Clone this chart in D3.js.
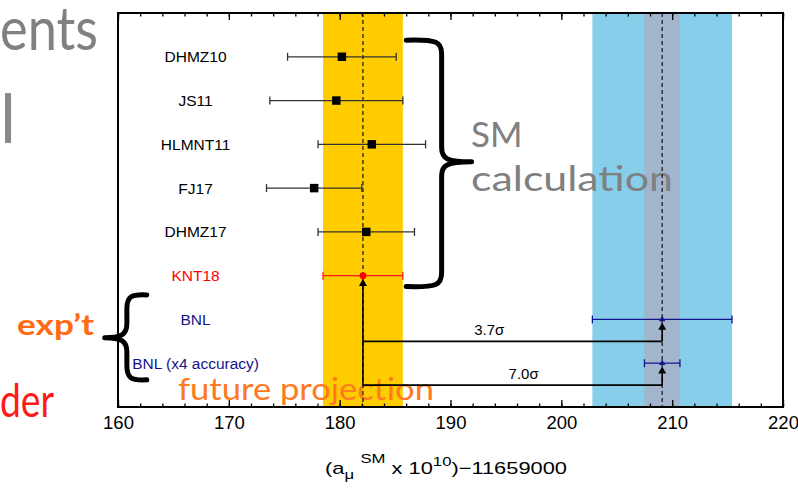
<!DOCTYPE html>
<html>
<head>
<meta charset="utf-8">
<script src="https://cdn.jsdelivr.net/npm/d3@7"></script>
<style>
    body { margin: 0; background: #fff; }
    svg { display: block; }
</style>
</head>
<body>
<div id="chart"></div>
<script>
    // Values
    const labels = ['DHMZ10', 'JS11', 'HLMNT11', 'FJ17', 'DHMZ17', 'KNT18', 'BNL', 'BNL (x4 accuracy)'];
    const values = [180.2, 179.7, 182.9, 177.7, 182.4, 182.1, 209.1, 209.1];
    const errors = [4.9, 6.0, 4.85, 4.3, 4.35, 3.6, 6.3, 1.6];
    const kinds = ['sm', 'sm', 'sm', 'sm', 'sm', 'knt', 'bnl', 'bnl'];
    const xTicks = [160, 170, 180, 190, 200, 210, 220];
    const sigmaLabels = ['3.7\u03c3', '7.0\u03c3'];
    const sigmaX = [193.5, 196.6];

    const width = 798;
    const height = 491;
    const margin = { top: 13, right: 15, bottom: 84, left: 118 };

    const colors = { sm: '#000', knt: '#ff0000', bnl: '#14148c' };
    const barColors = { sm: '#333', knt: '#ff1a1a', bnl: '#14148c' };

    const svg = d3.select('#chart')
        .append('svg')
        .attr('width', width)
        .attr('height', height);

    const x = d3.scaleLinear()
        .domain([160, 220])
        .range([margin.left, width - margin.right]);

    // 8 rows in 9 slots
    const y = d3.scaleLinear()
        .domain([0, 9])
        .range([margin.top, height - margin.bottom]);

    const rowY = i => y(i + 1);
    const knt = 5, bnl = 6, bnl4 = 7;

    // Bands
    const bands = [
        { lo: values[knt] - errors[knt], hi: values[knt] + errors[knt], fill: '#ffcc00' },
        { lo: values[bnl] - errors[bnl], hi: values[bnl] + errors[bnl], fill: '#87ceeb' },
        { lo: values[bnl4] - errors[bnl4], hi: values[bnl4] + errors[bnl4], fill: '#a2b5cd' }
    ];
    svg.selectAll('rect.band')
        .data(bands)
        .enter()
        .append('rect')
        .attr('class', 'band')
        .attr('x', d => x(d.lo))
        .attr('width', d => x(d.hi) - x(d.lo))
        .attr('y', y(0))
        .attr('height', y(9) - y(0))
        .attr('fill', d => d.fill);

    // Slide text that sits over the plot
    const slide = svg.append('g')
        .style('font-family', 'Lato, "Open Sans", sans-serif')
        .style('font-weight', 400);

    slide.append('text').attr('x', 0).attr('y', 50)
        .attr('font-size', 60).attr('fill', '#808080')
        .attr('textLength', 98).attr('lengthAdjust', 'spacingAndGlyphs')
        .text('ents');
    slide.append('text').attr('x', 0).attr('y', 143)
        .attr('font-size', 68).attr('fill', '#8a8a8a')
        .text('l');
    slide.append('text').attr('x', 0).attr('y', 417)
        .attr('font-size', 46).attr('fill', '#ff1a1a')
        .attr('textLength', 54).attr('lengthAdjust', 'spacingAndGlyphs')
        .text('der');
    slide.append('text').attr('x', 17).attr('y', 335)
        .attr('font-size', 28).attr('font-weight', 700).attr('fill', '#ff6a13')
        .attr('textLength', 77).attr('lengthAdjust', 'spacingAndGlyphs')
        .text('exp\u2019t');
    slide.append('text').attr('x', 471).attr('y', 147)
        .attr('font-size', 35).attr('fill', '#808080')
        .text('SM');
    slide.append('text').attr('x', 471).attr('y', 191)
        .attr('font-size', 35).attr('fill', '#808080')
        .attr('textLength', 202).attr('lengthAdjust', 'spacingAndGlyphs')
        .text('calculation');
    slide.append('text').attr('x', 178).attr('y', 400)
        .attr('font-size', 31).attr('fill', '#ff7a1f')
        .attr('textLength', 256).attr('lengthAdjust', 'spacingAndGlyphs')
        .text('future projection');

    // Dashed central values
    svg.selectAll('line.central')
        .data([values[knt], values[bnl]])
        .enter()
        .append('line')
        .attr('x1', d => x(d)).attr('x2', d => x(d))
        .attr('y1', y(0)).attr('y2', y(9))
        .attr('stroke', '#222')
        .attr('stroke-width', 1.3)
        .attr('stroke-dasharray', '4,3');

    // Axes: major and minor ticks pointing inward, top and bottom
    const axisFont = 'Liberation Sans, Arial, sans-serif';
    const bottom = svg.append('g')
        .attr('transform', `translate(0,${y(9)})`)
        .call(d3.axisBottom(x).tickValues(xTicks).tickSizeInner(-7).tickSizeOuter(0).tickPadding(9));
    bottom.selectAll('text').style('font-family', axisFont).style('font-size', '18.5px').attr('fill', '#000');
    bottom.select('.domain').remove();

    svg.append('g')
        .attr('transform', `translate(0,${y(9)})`)
        .call(d3.axisBottom(x).ticks(30).tickSizeInner(-3.5).tickSizeOuter(0).tickFormat(''))
        .select('.domain').remove();

    svg.append('g')
        .attr('transform', `translate(0,${y(0)})`)
        .call(d3.axisTop(x).tickValues(xTicks).tickSizeInner(-7).tickSizeOuter(0).tickFormat(''))
        .select('.domain').remove();

    svg.append('g')
        .attr('transform', `translate(0,${y(0)})`)
        .call(d3.axisTop(x).ticks(30).tickSizeInner(-3.5).tickSizeOuter(0).tickFormat(''))
        .select('.domain').remove();

    svg.selectAll('.tick line').attr('stroke', '#000').attr('stroke-width', 1.3);

    // Frame
    svg.append('rect')
        .attr('x', x(160)).attr('y', y(0))
        .attr('width', x(220) - x(160)).attr('height', y(9) - y(0))
        .attr('fill', 'none')
        .attr('stroke', '#000')
        .attr('stroke-width', 2);

    // Axis title (the original is drawn horizontally stretched)
    const title = svg.append('text')
        .attr('x', 325).attr('y', 474)
        .attr('textLength', 242)
        .attr('lengthAdjust', 'spacingAndGlyphs')
        .style('font-family', axisFont)
        .style('font-size', '17px');
    title.append('tspan').text('(a');
    title.append('tspan').attr('dy', 5).style('font-size', '13px').text('\u03bc');
    title.append('tspan').attr('dy', -16).attr('dx', 5).style('font-size', '13px').text('SM');
    title.append('tspan').attr('dy', 11).text(' x 10');
    title.append('tspan').attr('dy', -8).style('font-size', '13px').text('10');
    title.append('tspan').attr('dy', 8).text(')\u221211659000');

    // Row labels
    svg.selectAll('text.label')
        .data(labels)
        .enter()
        .append('text')
        .attr('class', 'label')
        .attr('x', x(167))
        .attr('y', (d, i) => rowY(i))
        .attr('dy', '0.35em')
        .attr('text-anchor', 'middle')
        .style('font-family', axisFont)
        .style('font-size', '15.5px')
        .attr('fill', (d, i) => colors[kinds[i]])
        .text(d => d);

    // Arrows and sigma lines
    const arrowColor = '#000';
    [bnl, bnl4].forEach((row, k) => {
        const yl = y(row + 1.5);
        svg.append('line')
            .attr('x1', x(values[knt])).attr('x2', x(values[row]))
            .attr('y1', yl).attr('y2', yl)
            .attr('stroke', arrowColor).attr('stroke-width', 1.8);
        svg.append('line')
            .attr('x1', x(values[row])).attr('x2', x(values[row]))
            .attr('y1', yl).attr('y2', rowY(row) + 9)
            .attr('stroke', arrowColor).attr('stroke-width', 1.6);
        svg.append('text')
            .attr('x', x(sigmaX[k])).attr('y', yl - 6)
            .attr('text-anchor', 'middle')
            .style('font-family', axisFont)
            .style('font-size', '15px')
            .text(sigmaLabels[k]);
    });
    svg.append('line')
        .attr('x1', x(values[knt])).attr('x2', x(values[knt]))
        .attr('y1', y(bnl4 + 1.5)).attr('y2', rowY(knt) + 9)
        .attr('stroke', arrowColor).attr('stroke-width', 1.6);

    const heads = [knt, bnl, bnl4];
    svg.selectAll('path.head')
        .data(heads)
        .enter()
        .append('path')
        .attr('d', d3.symbol(d3.symbolTriangle, 28))
        .attr('transform', d => `translate(${x(values[d])},${rowY(d) + 8})`)
        .attr('fill', arrowColor);

    // Error bars
    const bars = svg.append('g');
    labels.forEach((name, i) => {
        const c = barColors[kinds[i]];
        const yr = rowY(i);
        const lo = x(values[i] - errors[i]);
        const hi = x(values[i] + errors[i]);
        bars.append('line').attr('x1', lo).attr('x2', hi).attr('y1', yr).attr('y2', yr)
            .attr('stroke', c).attr('stroke-width', 1.3);
        [lo, hi].forEach(cx => {
            bars.append('line').attr('x1', cx).attr('x2', cx).attr('y1', yr - 4).attr('y2', yr + 4)
                .attr('stroke', c).attr('stroke-width', 1.3);
        });
    });

    // Markers
    svg.selectAll('path.marker')
        .data(labels)
        .enter()
        .append('path')
        .attr('d', (d, i) => {
            const k = kinds[i];
            if (k === 'sm') return d3.symbol(d3.symbolSquare, 72)();
            if (k === 'knt') return d3.symbol(d3.symbolCircle, 36)();
            return d3.symbol(d3.symbolTriangle, 18)();
        })
        .attr('transform', (d, i) => `translate(${x(values[i])},${rowY(i)})`)
        .attr('fill', (d, i) => colors[kinds[i]]);

    // Curly braces
    function brace(x0, xv, xt, y0, ym, y1) {
        const s = Math.sign(xt - xv);
        const r = 14;
        const p = d3.path();
        p.moveTo(x0, y0);
        p.bezierCurveTo(xv - s * 4, y0 - 1, xv, y0 + 2, xv, y0 + r);
        p.lineTo(xv, ym - r);
        p.bezierCurveTo(xv, ym - 3, xv + s * 6, ym, xt, ym);
        p.moveTo(xt, ym);
        p.bezierCurveTo(xv + s * 6, ym, xv, ym + 3, xv, ym + r);
        p.lineTo(xv, y1 - r);
        p.bezierCurveTo(xv, y1 - 2, xv - s * 4, y1 + 1, x0, y1);
        return p.toString();
    }
    const braces = [
        { x0: 186.0, xv: 189.2, xt: 191.9, y0: 0.62, ym: 3.4, y1: 6.25 },
        { x0: 162.6, xv: 160.8, xt: 158.8, y0: 6.44, ym: 7.42, y1: 8.38 }
    ];
    svg.selectAll('path.brace')
        .data(braces)
        .enter()
        .append('path')
        .attr('d', d => brace(x(d.x0), x(d.xv), x(d.xt), y(d.y0), y(d.ym), y(d.y1)))
        .attr('fill', 'none')
        .attr('stroke', '#000')
        .attr('stroke-width', 5)
        .attr('stroke-linecap', 'round');
</script>
</body>
</html>
